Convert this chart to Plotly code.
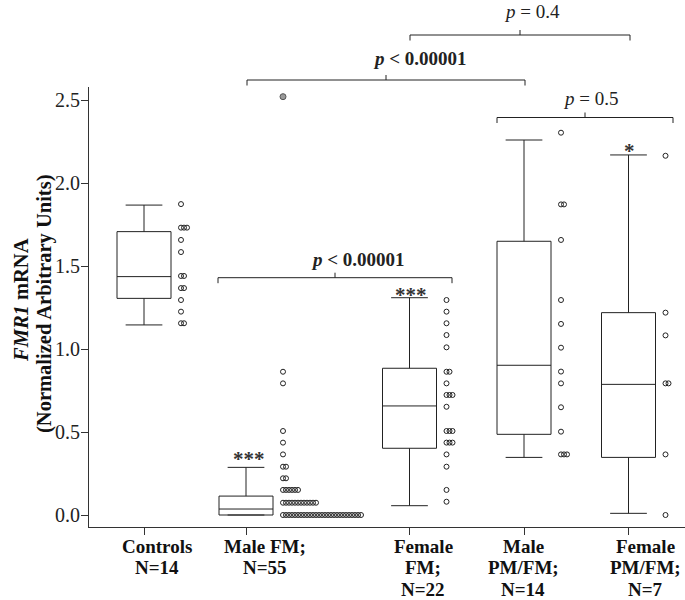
import plotly.graph_objects as go

# ---------------- data ----------------
groups = ["Controls", "Male FM", "Female FM", "Male PM/FM", "Female PM/FM"]
label_lines = [["Controls", "N=14"], ["Male FM;", "N=55"], ["Female", "FM;", "N=22"],
               ["Male", "PM/FM;", "N=14"], ["Female", "PM/FM;", "N=7"]]

q1 = [1.305, 0.0, 0.402, 0.486, 0.347]
median = [1.436, 0.036, 0.657, 0.902, 0.787]
q3 = [1.707, 0.114, 0.884, 1.649, 1.219]
lowerfence = [1.145, 0.0, 0.056, 0.347, 0.010]
upperfence = [1.867, 0.287, 1.309, 2.259, 2.169]

controls_pts = [1.873, 1.731, 1.731, 1.731, 1.657, 1.584, 1.440, 1.440,
                1.367, 1.367, 1.295, 1.225, 1.155, 1.155]
male_fm_pts = ([0.863, 0.793, 0.506, 0.436, 0.365, 0.291, 0.291, 0.221, 0.221]
               + [0.151] * 6 + [0.074] * 12 + [0.0] * 27)
male_fm_extreme = [2.52]
female_fm_pts = [1.295, 1.225, 1.155, 1.084, 1.010, 0.863, 0.863, 0.793,
                 0.723, 0.723, 0.723, 0.652, 0.506, 0.506, 0.506, 0.436, 0.436,
                 0.436, 0.365, 0.291, 0.151, 0.080]
male_pmfm_pts = [2.303, 1.871, 1.871, 1.657, 1.295, 1.151, 1.008, 0.864, 0.793,
                 0.649, 0.502, 0.365, 0.365, 0.365]
female_pmfm_pts = [2.164, 1.219, 1.082, 0.793, 0.793, 0.365, 0.0]
points = [controls_pts, male_fm_pts, female_fm_pts, male_pmfm_pts, female_pmfm_pts]

y_ticks = [0.0, 0.5, 1.0, 1.5, 2.0, 2.5]

# ---------------- layout constants ----------------
W, H = 685, 600
L, R, T, B = 89, 0, 87, 73
PW, PH = W - L - R, H - T - B
group_x = [55, 157, 320.5, 435, 539.5]      # x-axis units (1 unit = 1 px)
label_x = [68, 176, 334, 434, 556]
BOX_W = 54
DOT_OFF = 37
DOT_STEP = 3
FONT = "Liberation Serif"
INK = "#222222"


def yp(px):
    """pixel row -> paper y"""
    return (H - B - px) / PH


def xp(px):
    """pixel column -> paper x"""
    return (px - L) / PW


fig = go.Figure()

for i, g in enumerate(groups):
    fig.add_trace(go.Box(
        x=[group_x[i]], q1=[q1[i]], median=[median[i]], q3=[q3[i]],
        lowerfence=[lowerfence[i]], upperfence=[upperfence[i]],
        width=BOX_W, whiskerwidth=0.68, boxpoints=False,
        line=dict(color=INK, width=1), fillcolor="rgba(0,0,0,0)",
        name=g, showlegend=False, hoverinfo="skip"))

    # dot strip: equal values stacked sideways
    counts = {}
    xs, ys = [], []
    for v in points[i]:
        k = counts.get(v, 0)
        counts[v] = k + 1
        xs.append(group_x[i] + DOT_OFF + k * DOT_STEP)
        ys.append(v)
    fig.add_trace(go.Scatter(
        x=xs, y=ys, mode="markers", showlegend=False, hoverinfo="skip",
        marker=dict(symbol="circle-open", size=5, color=INK, line=dict(width=1))))

fig.add_trace(go.Scatter(
    x=[group_x[1] + DOT_OFF] * len(male_fm_extreme), y=male_fm_extreme,
    mode="markers", showlegend=False, hoverinfo="skip",
    marker=dict(symbol="circle", size=6, color="#9a9a9a", line=dict(width=1, color="#555"))))

shapes = []
annotations = []


def bracket(x0, x1, ypx, drop=5.5, rise=5):
    xm = (x0 + x1) / 2
    path = (f"M {x0},{yp(ypx + drop)} L {x0},{yp(ypx)} L {x1},{yp(ypx)} L {x1},{yp(ypx + drop)} "
            f"M {xm},{yp(ypx)} L {xm},{yp(ypx - rise)}")
    shapes.append(dict(type="path", path=path, xref="x", yref="paper",
                       line=dict(color=INK, width=1)))


bracket(129, 363, 277.7)
bracket(158, 436, 80)
bracket(321, 541, 35)
bracket(408, 584, 117.5)


def text(x, ypx, s, size=19, color=INK):
    annotations.append(dict(x=x, y=yp(ypx), xref="x", yref="paper", text=s,
                            showarrow=False, xanchor="center", yanchor="middle",
                            font=dict(family=FONT, size=size, color=color)))


text(269, 259.6, "<b><i>p</i> &lt; 0.00001</b>")
text(331, 58.6, "<b><i>p</i> &lt; 0.00001</b>")
text(443, 11, "<i>p</i> = 0.4")
text(501, 98.6, "<i>p</i> = 0.5")

text(160, 459, "<b>***</b>", size=21, color="#333")
text(322, 295, "<b>***</b>", size=21, color="#333")
text(540, 151, "<b>*</b>", size=21, color="#333")

for i, lines in enumerate(label_lines):
    for j, s in enumerate(lines):
        text(label_x[i], 546 + j * 21.8, f"<b>{s}</b>", size=19, color="#111")

# y-axis title lines
annotations.append(dict(x=xp(21), y=yp(300), xref="paper", yref="paper",
                        text="<b><i>FMR1</i> mRNA</b>", textangle=-90, showarrow=False,
                        xanchor="center", yanchor="middle",
                        font=dict(family=FONT, size=20.5, color="#111")))
annotations.append(dict(x=xp(44), y=yp(304), xref="paper", yref="paper",
                        text="<b>(Normalized Arbitrary Units)</b>", textangle=-90, showarrow=False,
                        xanchor="center", yanchor="middle",
                        font=dict(family=FONT, size=20.5, color="#111")))

fig.update_layout(
    width=W, height=H, margin=dict(l=L, r=R, t=T, b=B, pad=0),
    paper_bgcolor="white", plot_bgcolor="white", boxmode="overlay",
    shapes=shapes, annotations=annotations, showlegend=False,
    font=dict(family=FONT, color=INK),
    xaxis=dict(range=[0, PW], showgrid=False, zeroline=False, showline=True,
               linecolor="#333", linewidth=1, ticks="outside", ticklen=7,
               tickcolor="#333", tickvals=group_x, ticktext=[""] * len(group_x),
               fixedrange=True),
    yaxis=dict(range=[-12 / 166, 2.5 + 13 / 166], showgrid=False, zeroline=False,
               showline=True, linecolor="#333", linewidth=1, ticks="outside",
               ticklen=7, tickcolor="#333", tickvals=y_ticks,
               ticktext=[f"{v:.1f}" for v in y_ticks], ticklabelstandoff=-3,
               tickfont=dict(family=FONT, size=20, color="#222"), fixedrange=True),
)

fig.write_html("out.html", config={"displayModeBar": False},
               post_script="document.body.style.margin='0px';document.body.style.overflow='hidden';")
